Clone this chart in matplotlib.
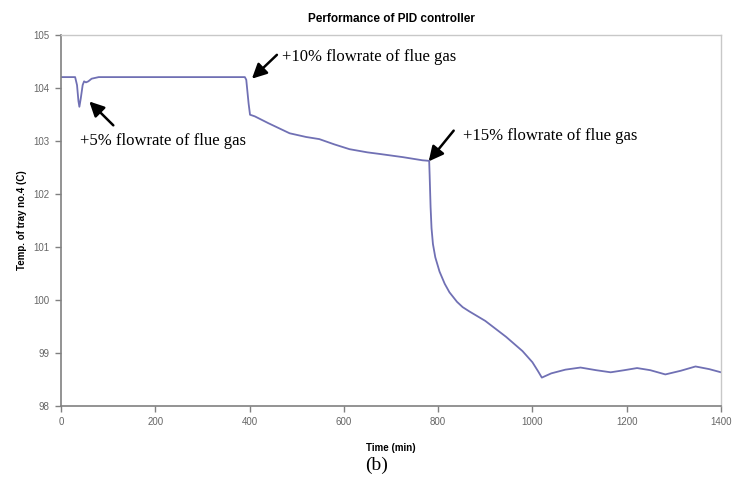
import matplotlib.pyplot as plt

# tray no.4 temperature under PID control, disturbances at ~35, ~390 and ~780 min
time = [0, 30, 34, 37, 39, 42, 46, 49, 53, 58, 65, 80, 200, 390, 393, 398, 401, 411,
        440, 485, 520, 548, 580, 612, 650, 676, 725, 767, 781, 782, 784, 786, 789,
        794, 803, 814, 824, 840, 852, 866, 900, 944, 979, 1000, 1012, 1020, 1040,
        1070, 1102, 1135, 1166, 1195, 1222, 1250, 1282, 1315, 1346, 1375, 1400]
temp = [104.2, 104.2, 104.05, 103.75, 103.64, 103.8, 104.05, 104.12, 104.1, 104.12,
        104.17, 104.2, 104.2, 104.2, 104.15, 103.7, 103.49, 103.46,
        103.33, 103.14, 103.07, 103.03, 102.93, 102.84, 102.78, 102.75, 102.69,
        102.63, 102.62, 102.35, 101.75, 101.35, 101.05,
        100.8, 100.53, 100.3, 100.14, 99.96, 99.86, 99.78, 99.6, 99.3, 99.03, 98.82,
        98.65, 98.53, 98.61,
        98.68, 98.72, 98.67, 98.63, 98.67, 98.71, 98.67, 98.59, 98.66, 98.74, 98.69,
        98.63]

# (label, arrow tip (t, T), arrow tail (t, T), text anchor (t, T))
notes = [
    ("+5% flowrate of flue gas", (60, 103.74), (111, 103.29), (41, 103.0)),
    ("+10% flowrate of flue gas", (405, 104.17), (458, 104.62), (469, 104.58)),
    ("+15% flowrate of flue gas", (780, 102.61), (833, 103.19), (852, 103.08)),
]

fig = plt.figure(figsize=(7.33, 4.84), dpi=100)
ax = fig.add_axes([0.0832, 0.1618, 0.9004, 0.7665])

ax.plot(time, temp, color='#7070b4', lw=1.3)

ax.set_xlim(0, 1400)
ax.set_ylim(98, 105)
ax.set_xticks(range(0, 1401, 200))
ax.set_yticks(range(98, 106))

for side in ('left', 'bottom'):
    ax.spines[side].set_color('#808080')
    ax.spines[side].set_linewidth(1.2)
for side in ('top', 'right'):
    ax.spines[side].set_color('#c8c8c8')
    ax.spines[side].set_linewidth(1.0)

ax.tick_params(direction='out', length=4, width=1, color='#808080',
               labelsize=7, labelcolor='#666666', pad=4)
for lab in ax.get_xticklabels() + ax.get_yticklabels():
    lab.set_family('Liberation Sans')

ax.set_title('Performance of PID controller', fontsize=8.5, fontweight='bold',
             family='Liberation Sans', pad=9)
ax.set_xlabel('Time (min)', fontsize=7, fontweight='bold',
              family='Liberation Sans', labelpad=12)
ax.set_ylabel('Temp. of tray no.4 (C)', fontsize=7, fontweight='bold',
              family='Liberation Sans', labelpad=5)

for text, tip, tail, pos in notes:
    ax.annotate('', xy=tip, xytext=tail,
                arrowprops=dict(arrowstyle='-|>', color='black', lw=1.8,
                                mutation_scale=22, shrinkA=0, shrinkB=0))
    ax.text(pos[0], pos[1], text, fontsize=12, family='Liberation Serif',
            va='center', ha='left')

fig.text(0.514, 0.039, '(b)', fontsize=14, family='Liberation Serif',
         ha='center', va='center')

fig.savefig('out.png', dpi=100)
